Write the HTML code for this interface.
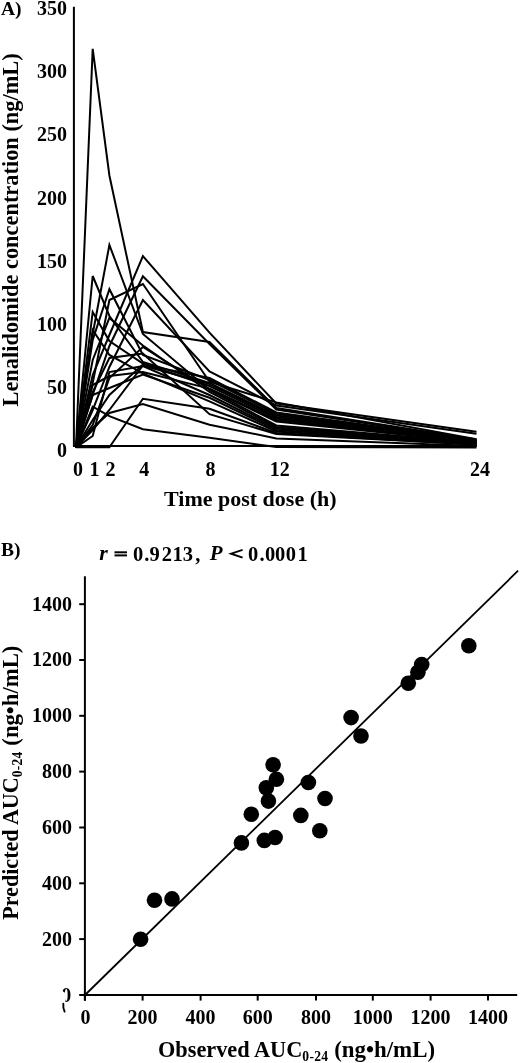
<!DOCTYPE html><html><head><meta charset="utf-8"><style>html,body{margin:0;padding:0;background:#fff;width:520px;height:1063px;overflow:hidden}</style></head><body><svg width="520" height="1063" viewBox="0 0 520 1063" style="display:block;will-change:transform;font-family:'Liberation Serif',serif;font-weight:bold;"><text x="1" y="14.6" font-size="19.5" text-anchor="start" >A)</text><text x="67" y="14.9" font-size="20" text-anchor="end" >350</text><text x="67" y="78.1" font-size="20" text-anchor="end" >300</text><text x="67" y="141.3" font-size="20" text-anchor="end" >250</text><text x="67" y="204.5" font-size="20" text-anchor="end" >200</text><text x="67" y="267.6" font-size="20" text-anchor="end" >150</text><text x="67" y="330.8" font-size="20" text-anchor="end" >100</text><text x="67" y="394.0" font-size="20" text-anchor="end" >50</text><text x="67" y="457.2" font-size="20" text-anchor="end" >0</text><text x="78" y="476" font-size="20" text-anchor="middle" >0</text><text x="94.5" y="476" font-size="20" text-anchor="middle" >1</text><text x="110.5" y="476" font-size="20" text-anchor="middle" >2</text><text x="144.3" y="476" font-size="20" text-anchor="middle" >4</text><text x="210.6" y="476" font-size="20" text-anchor="middle" >8</text><text x="279.8" y="476" font-size="20" text-anchor="middle" >12</text><text x="480" y="476" font-size="20" text-anchor="middle" >24</text><text x="164" y="506.3" font-size="22" text-anchor="start" >Time post dose (h)</text><text transform="translate(17.8,406.5) rotate(-90)" font-size="22.4">Lenalidomide concentration (ng/mL)</text><line x1="73.9" y1="6.7" x2="73.9" y2="447" stroke="#000" stroke-width="2"/><line x1="73" y1="446" x2="476.8" y2="446" stroke="#000" stroke-width="2.2"/><polyline points="76.0,447.3 92.7,48.8 109.4,175.5 142.9,332 209.5,342 276.3,408 476.5,439.5" fill="none" stroke="#000" stroke-width="2" stroke-linejoin="miter"/><polyline points="76.0,447.3 92.7,375 109.4,335 142.9,256 209.5,332.7 276.3,403.5 476.5,431.7" fill="none" stroke="#000" stroke-width="2" stroke-linejoin="miter"/><polyline points="76.0,447.3 92.7,395 109.4,346 142.9,276.3 209.5,344 276.3,409.5 476.5,440" fill="none" stroke="#000" stroke-width="2" stroke-linejoin="miter"/><polyline points="76.0,447.3 92.7,383 109.4,300 142.9,284 209.5,381.7 276.3,402.4 476.5,439.3" fill="none" stroke="#000" stroke-width="2" stroke-linejoin="miter"/><polyline points="76.0,447.3 92.7,410 109.4,367 142.9,300 209.5,371.4 276.3,405.5 476.5,433.7" fill="none" stroke="#000" stroke-width="2" stroke-linejoin="miter"/><polyline points="76.0,447.3 92.7,334 109.4,245 142.9,334 209.5,390 276.3,425.5 476.5,442.6" fill="none" stroke="#000" stroke-width="2" stroke-linejoin="miter"/><polyline points="76.0,447.3 92.7,276 109.4,316 142.9,362 209.5,383 276.3,415.5 476.5,441" fill="none" stroke="#000" stroke-width="2" stroke-linejoin="miter"/><polyline points="76.0,447.3 92.7,340 109.4,289.2 142.9,355 209.5,380 276.3,414 476.5,440.6" fill="none" stroke="#000" stroke-width="2" stroke-linejoin="miter"/><polyline points="76.0,447.3 92.7,312 109.4,341 142.9,363.5 209.5,386 276.3,418.5 476.5,441.6" fill="none" stroke="#000" stroke-width="2" stroke-linejoin="miter"/><polyline points="76.0,447.3 92.7,360 109.4,318 142.9,345.5 209.5,392 276.3,427 476.5,443" fill="none" stroke="#000" stroke-width="2" stroke-linejoin="miter"/><polyline points="76.0,447.3 92.7,385 109.4,376 142.9,372 209.5,388.6 276.3,420 476.5,442" fill="none" stroke="#000" stroke-width="2" stroke-linejoin="miter"/><polyline points="76.0,447.3 92.7,330 109.4,355 142.9,373.4 209.5,401.4 276.3,431.5 476.5,444" fill="none" stroke="#000" stroke-width="2" stroke-linejoin="miter"/><polyline points="76.0,447.3 92.7,425 109.4,378 142.9,347 209.5,389 276.3,421.5 476.5,442.3" fill="none" stroke="#000" stroke-width="2" stroke-linejoin="miter"/><polyline points="76.0,447.3 92.7,420 109.4,395 142.9,364.5 209.5,378 276.3,412.5 476.5,440.3" fill="none" stroke="#000" stroke-width="2" stroke-linejoin="miter"/><polyline points="76.0,447.3 92.7,395 109.4,388 142.9,374.5 209.5,397.8 276.3,430 476.5,443.6" fill="none" stroke="#000" stroke-width="2" stroke-linejoin="miter"/><polyline points="76.0,447.3 92.7,392 109.4,358 142.9,353.6 209.5,414.2 276.3,434 476.5,444.6" fill="none" stroke="#000" stroke-width="2" stroke-linejoin="miter"/><polyline points="76.0,447.3 92.7,447.3 109.4,447.3 142.9,398.8 209.5,408.8 276.3,433 476.5,444.8" fill="none" stroke="#000" stroke-width="2" stroke-linejoin="miter"/><polyline points="76.0,447.3 92.7,428 109.4,413 142.9,404 209.5,424.7 276.3,438.4 476.5,446" fill="none" stroke="#000" stroke-width="2" stroke-linejoin="miter"/><polyline points="76.0,447.3 92.7,406.7 109.4,416.2 142.9,429.3 209.5,437.7 276.3,447 476.5,447.5" fill="none" stroke="#000" stroke-width="2" stroke-linejoin="miter"/><polyline points="76.0,447.3 92.7,430 109.4,410 142.9,365.5 209.5,384 276.3,417 476.5,441.3" fill="none" stroke="#000" stroke-width="2" stroke-linejoin="miter"/><polyline points="76.0,447.3 92.7,436 109.4,372 142.9,366 209.5,395 276.3,428.5 476.5,443.3" fill="none" stroke="#000" stroke-width="2" stroke-linejoin="miter"/><text x="1" y="556.3" font-size="19.5" text-anchor="start" >B)</text><text x="99.3" y="560.4" font-size="22" font-style="italic">r</text><rect x="114.5" y="551.3" width="12.5" height="2" fill="#000"/><rect x="114.5" y="554.4" width="12.5" height="2" fill="#000"/><text x="132.9 144.3 149.6 161.7 172.6 182.8 195.2" y="560.5" font-size="20.5">0.9213,</text><text x="209.8" y="560.4" font-size="21" font-style="italic">P</text><polyline points="242.6,549.8 231,553.7 242.6,557.6" fill="none" stroke="#000" stroke-width="1.9" stroke-linejoin="miter"/><text x="248 259.4 264.9 275 285.7 297.5" y="560.5" font-size="20.5">0.0001</text><text x="72" y="610.6" font-size="20" text-anchor="end" >1400</text><line x1="79.2" y1="604.2" x2="85" y2="604.2" stroke="#000" stroke-width="2"/><text x="72" y="666.4" font-size="20" text-anchor="end" >1200</text><line x1="79.2" y1="660.0" x2="85" y2="660.0" stroke="#000" stroke-width="2"/><text x="72" y="722.2" font-size="20" text-anchor="end" >1000</text><line x1="79.2" y1="715.8" x2="85" y2="715.8" stroke="#000" stroke-width="2"/><text x="72" y="778.0" font-size="20" text-anchor="end" >800</text><line x1="79.2" y1="771.6" x2="85" y2="771.6" stroke="#000" stroke-width="2"/><text x="72" y="833.9" font-size="20" text-anchor="end" >600</text><line x1="79.2" y1="827.5" x2="85" y2="827.5" stroke="#000" stroke-width="2"/><text x="72" y="889.7" font-size="20" text-anchor="end" >400</text><line x1="79.2" y1="883.3" x2="85" y2="883.3" stroke="#000" stroke-width="2"/><text x="72" y="945.5" font-size="20" text-anchor="end" >200</text><line x1="79.2" y1="939.1" x2="85" y2="939.1" stroke="#000" stroke-width="2"/><text x="85.5" y="1024" font-size="20" text-anchor="middle" >0</text><line x1="84.9" y1="995" x2="84.9" y2="1000.6" stroke="#000" stroke-width="2"/><text x="142.6" y="1024" font-size="20" text-anchor="middle" >200</text><line x1="142.6" y1="995" x2="142.6" y2="1000.6" stroke="#000" stroke-width="2"/><text x="200.6" y="1024" font-size="20" text-anchor="middle" >400</text><line x1="200.6" y1="995" x2="200.6" y2="1000.6" stroke="#000" stroke-width="2"/><text x="257.7" y="1024" font-size="20" text-anchor="middle" >600</text><line x1="257.7" y1="995" x2="257.7" y2="1000.6" stroke="#000" stroke-width="2"/><text x="316" y="1024" font-size="20" text-anchor="middle" >800</text><line x1="316" y1="995" x2="316" y2="1000.6" stroke="#000" stroke-width="2"/><text x="372.8" y="1024" font-size="20" text-anchor="middle" >1000</text><line x1="372.8" y1="995" x2="372.8" y2="1000.6" stroke="#000" stroke-width="2"/><text x="430.6" y="1024" font-size="20" text-anchor="middle" >1200</text><line x1="430.6" y1="995" x2="430.6" y2="1000.6" stroke="#000" stroke-width="2"/><text x="488" y="1024" font-size="20" text-anchor="middle" >1400</text><line x1="488" y1="995" x2="488" y2="1000.6" stroke="#000" stroke-width="2"/><line x1="84.9" y1="576.3" x2="84.9" y2="1000.8" stroke="#000" stroke-width="2"/><line x1="79.2" y1="995.1" x2="517.2" y2="995.1" stroke="#000" stroke-width="2"/><line x1="85" y1="995" x2="518.1" y2="570.7" stroke="#000" stroke-width="1.8"/><circle cx="140.6" cy="939.3" r="7.8" fill="#000"/><circle cx="154.5" cy="900.3" r="7.8" fill="#000"/><circle cx="172" cy="898.9" r="7.8" fill="#000"/><circle cx="241.4" cy="842.9" r="7.8" fill="#000"/><circle cx="251.3" cy="814.3" r="7.8" fill="#000"/><circle cx="264.3" cy="840.4" r="7.8" fill="#000"/><circle cx="275.1" cy="837.5" r="7.8" fill="#000"/><circle cx="268.4" cy="801.1" r="7.8" fill="#000"/><circle cx="266.3" cy="787.7" r="7.8" fill="#000"/><circle cx="276.4" cy="779.3" r="7.8" fill="#000"/><circle cx="273.1" cy="764.8" r="7.8" fill="#000"/><circle cx="308.4" cy="782.5" r="7.8" fill="#000"/><circle cx="300.8" cy="815.4" r="7.8" fill="#000"/><circle cx="319.8" cy="830.8" r="7.8" fill="#000"/><circle cx="325" cy="798.5" r="7.8" fill="#000"/><circle cx="351.1" cy="717.6" r="7.8" fill="#000"/><circle cx="361" cy="736" r="7.8" fill="#000"/><circle cx="408.3" cy="683.3" r="7.8" fill="#000"/><circle cx="417.9" cy="672.3" r="7.8" fill="#000"/><circle cx="421.7" cy="664.6" r="7.8" fill="#000"/><circle cx="468.8" cy="645.8" r="7.8" fill="#000"/><text x="158" y="1056.5" font-size="22.3">Observed AUC<tspan font-size="13.6" dy="4.5" letter-spacing="0.3">0-24</tspan><tspan dy="-4.5" font-size="22.9"> (ng•h/mL)</tspan></text><text transform="translate(17.5,919.8) rotate(-90) scale(0.9916,1)" font-size="22.3">Predicted AUC<tspan font-size="13.6" dy="4.5" letter-spacing="0.3">0-24</tspan><tspan dy="-4.5" font-size="22.9"> (ng•h/mL)</tspan></text><g><clipPath id="cz"><polygon points="62.5,985 75,985 75,1003 65.3,1003 65.3,993 62.5,991"/></clipPath><text x="71.2" y="1001.6" font-size="20" text-anchor="end" clip-path="url(#cz)">0</text></g><path d="M63.3,1003.6 Q62.9,1008 64.6,1011.6" fill="none" stroke="#000" stroke-width="1.9" stroke-linecap="round"/></svg></body></html>
